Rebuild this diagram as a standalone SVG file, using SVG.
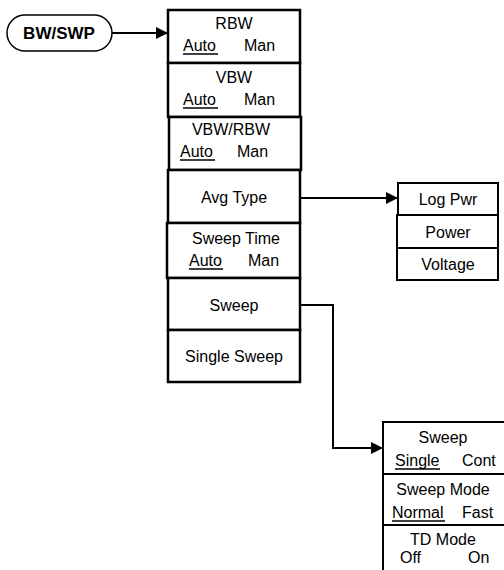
<svg xmlns="http://www.w3.org/2000/svg" width="504" height="570" viewBox="0 0 504 570">
<style>
.bx{fill:#fff;stroke:#000;stroke-width:2.5}
.sb{fill:#fff;stroke:#000;stroke-width:2}
.t{font-family:"Liberation Sans Narrow","Liberation Sans",Arial,sans-serif;font-size:16px;fill:#000}
.m{text-anchor:middle}
.u{stroke:#000;stroke-width:1.3}
.c{fill:none;stroke:#000;stroke-width:2}
</style>
<defs>
<marker id="ah" markerWidth="12" markerHeight="12" refX="12" refY="6" orient="auto" markerUnits="userSpaceOnUse">
<path d="M0,0 L12,6 L0,12 Z" fill="#000"/>
</marker>
</defs>
<g id="connectors">
<line class="c" x1="112" y1="33" x2="168" y2="33" marker-end="url(#ah)"/>
<line class="c" x1="301" y1="198" x2="398" y2="198" marker-end="url(#ah)"/>
<polyline class="c" points="301,305 333,305 333,448 383,448" marker-end="url(#ah)"/>
</g>
<g id="bwswp">
<rect x="7" y="15" width="105" height="36" rx="18" fill="#fff" stroke="#000" stroke-width="1.5"/>
<text class="t m" x="59" y="39" font-weight="bold" style="font-size:17px">BW/SWP</text>
</g>
<g id="rbw">
<rect class="bx" x="168" y="10" width="132" height="53"/>
<text class="t m" x="234" y="29">RBW</text>
<text class="t" x="183" y="51">Auto</text><line class="u" x1="183" y1="54" x2="218" y2="54"/>
<text class="t" x="244" y="51">Man</text>
</g>
<g id="vbw">
<rect class="bx" x="168" y="63" width="132" height="54"/>
<text class="t m" x="234" y="83">VBW</text>
<text class="t" x="183" y="105">Auto</text><line class="u" x1="183" y1="108" x2="218" y2="108"/>
<text class="t" x="244" y="105">Man</text>
</g>
<g id="vbwrbw">
<rect class="bx" x="169" y="117" width="132" height="53"/>
<text class="t m" x="231" y="135">VBW/RBW</text>
<text class="t" x="180" y="157">Auto</text><line class="u" x1="180" y1="160" x2="215" y2="160"/>
<text class="t" x="237" y="157">Man</text>
</g>
<g id="avgtype">
<rect class="bx" x="168" y="170" width="132" height="53"/>
<text class="t m" x="234" y="203">Avg Type</text>
</g>
<g id="sweeptime">
<rect class="bx" x="167" y="223" width="133" height="55"/>
<text class="t m" x="236" y="244">Sweep Time</text>
<text class="t" x="189" y="266">Auto</text><line class="u" x1="189" y1="269" x2="223" y2="269"/>
<text class="t" x="248" y="266">Man</text>
</g>
<g id="sweep">
<rect class="bx" x="168" y="278" width="132" height="52"/>
<text class="t m" x="234" y="311">Sweep</text>
</g>
<g id="singlesweep">
<rect class="bx" x="168" y="330" width="132" height="52"/>
<text class="t m" x="234" y="362">Single Sweep</text>
</g>
<g id="logpwr">
<rect class="sb" x="398" y="183" width="100" height="32"/>
<text class="t m" x="448" y="205">Log Pwr</text>
</g>
<g id="power">
<rect class="sb" x="397" y="215" width="101" height="33"/>
<text class="t m" x="448" y="238">Power</text>
</g>
<g id="voltage">
<rect class="sb" x="397" y="248" width="101" height="32"/>
<text class="t m" x="448" y="270">Voltage</text>
</g>
<g id="sweepsub">
<rect class="sb" x="383" y="422" width="130" height="52"/>
<text class="t m" x="443" y="443">Sweep</text>
<text class="t" x="395" y="466">Single</text><line class="u" x1="395" y1="469" x2="440" y2="469"/>
<text class="t" x="462" y="466">Cont</text>
</g>
<g id="sweepmode">
<rect class="sb" x="383" y="474" width="130" height="51"/>
<text class="t m" x="443" y="495">Sweep Mode</text>
<text class="t" x="392" y="518">Normal</text><line class="u" x1="392" y1="521" x2="445" y2="521"/>
<text class="t" x="462" y="518">Fast</text>
</g>
<g id="tdmode">
<rect class="sb" x="383" y="525" width="130" height="60"/>
<text class="t m" x="443" y="545">TD Mode</text>
<text class="t" x="400" y="563">Off</text>
<text class="t" x="468" y="563">On</text>
</g>
</svg>
